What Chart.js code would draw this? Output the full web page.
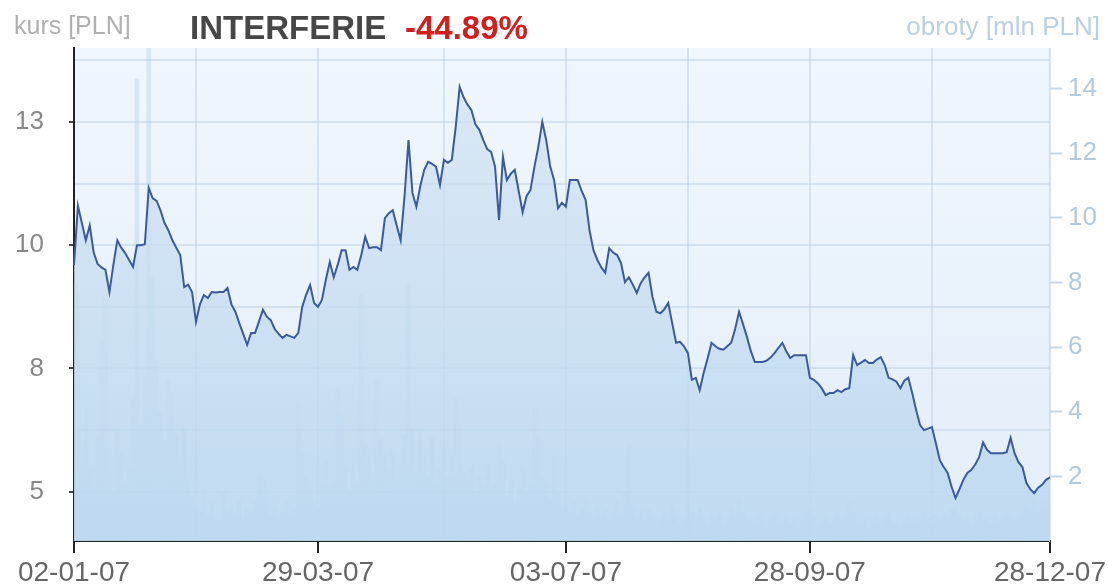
<!DOCTYPE html>
<html>
<head>
<meta charset="utf-8">
<script src="https://cdn.jsdelivr.net/npm/chart.js@4.4.1/dist/chart.umd.min.js"></script>
<style>
  body { margin: 0; background: #fff; }
  #wrap { position: relative; width: 1109px; height: 586px; }
  .hdr { position: absolute; font-family: "Liberation Sans", Arial, sans-serif; white-space: nowrap; line-height: 1; }
</style>
</head>
<body>
<div id="wrap">
  <canvas id="chart" width="1109" height="586"></canvas>
  <div class="hdr" style="left:14px;top:13px;font-size:25px;color:#b0b0b0">kurs [PLN]</div>
  <div class="hdr" style="left:190px;top:11px;font-size:33px;font-weight:bold;color:#474747">INTERFERIE</div>
  <div class="hdr" style="left:405px;top:11px;font-size:33px;font-weight:bold;color:#d41e1e">-44.89%</div>
  <div class="hdr" style="right:9px;top:13px;font-size:26px;color:#bccfe0">obroty [mln PLN]</div>
</div>
<script>
// closing price per trading day, 2007
const prices = [
  9.60, 10.80, 10.45, 10.10, 10.40, 9.85, 9.62, 9.55, 9.50, 9.05,
  9.60, 10.10, 9.95, 9.84, 9.70, 9.56, 10.00, 10.00, 10.02, 11.16,
  10.95, 10.90, 10.70, 10.45, 10.30, 10.10, 9.95, 9.80, 9.15, 9.20,
  9.05, 8.44, 8.80, 8.99, 8.93, 9.05, 9.04, 9.05, 9.05, 9.13,
  8.80, 8.65, 8.42, 8.20, 7.98, 8.22, 8.22, 8.45, 8.69, 8.55,
  8.48, 8.30, 8.20, 8.12, 8.18, 8.15, 8.12, 8.22, 8.75, 9.00,
  9.19, 8.83, 8.75, 8.89, 9.30, 9.66, 9.35, 9.60, 9.90, 9.90,
  9.50, 9.56, 9.50, 9.80, 10.17, 9.94, 9.96, 9.96, 9.90, 10.55,
  10.65, 10.71, 10.40, 10.10, 11.00, 12.13, 11.06, 10.78, 11.20, 11.53,
  11.69, 11.65, 11.59, 11.22, 11.73, 11.67, 11.73, 12.40, 13.21, 13.00,
  12.85, 12.74, 12.45, 12.34, 12.13, 11.95, 11.89, 11.59, 10.51, 11.79,
  11.32, 11.45, 11.53, 11.10, 10.67, 11.00, 11.12, 11.59, 12.00, 12.50,
  12.13, 11.60, 11.32, 10.75, 10.86, 10.78, 11.32, 11.32, 11.32, 11.10,
  10.92, 10.30, 9.90, 9.70, 9.55, 9.44, 9.94, 9.85, 9.80, 9.64,
  9.25, 9.35, 9.20, 9.03, 9.23, 9.35, 9.44, 8.95, 8.65, 8.62,
  8.70, 8.83, 8.42, 8.02, 8.04, 7.95, 7.81, 7.27, 7.31, 7.06,
  7.41, 7.70, 8.02, 7.95, 7.90, 7.88, 7.95, 8.02, 8.30, 8.65,
  8.40, 8.14, 7.85, 7.63, 7.63, 7.63, 7.66, 7.72, 7.81, 7.92,
  8.02, 7.85, 7.71, 7.77, 7.77, 7.77, 7.77, 7.31, 7.27, 7.20,
  7.10, 6.96, 7.00, 7.00, 7.06, 7.02, 7.08, 7.10, 7.77, 7.57,
  7.62, 7.67, 7.61, 7.61, 7.68, 7.73, 7.57, 7.31, 7.28, 7.23,
  7.10, 7.25, 7.31, 7.00, 6.65, 6.35, 6.25, 6.28, 6.31, 5.99,
  5.64, 5.50, 5.38, 5.10, 4.87, 5.05, 5.24, 5.38, 5.44, 5.55,
  5.70, 6.00, 5.85, 5.78, 5.78, 5.78, 5.78, 5.80, 6.09, 5.78,
  5.60, 5.50, 5.18, 5.05, 4.97, 5.08, 5.14, 5.24, 5.29
];

// turnover, mln PLN
const volumes = [
  8.0, 7.6, 2.4, 4.1, 2.2, 1.6, 3.2, 6.2, 7.5, 2.1,
  1.5, 3.4, 2.7, 1.8, 2.3, 4.4, 14.3, 3.6, 5.1, 16.8,
  8.2, 5.6, 4.0, 3.1, 5.0, 4.6, 3.3, 2.4, 3.5, 1.9,
  1.4, 1.1, 0.9, 1.6, 0.8, 1.2, 0.7, 0.6, 1.5, 0.9,
  1.1, 0.8, 1.3, 0.7, 1.0, 0.9, 1.2, 2.0, 1.9, 1.6,
  0.8, 1.1, 0.7, 0.9, 1.3, 0.8, 1.0, 4.3, 2.8, 2.0,
  1.6, 1.2, 1.0, 1.8, 2.5, 1.7, 1.9, 4.7, 3.9, 2.2,
  1.5, 2.1, 1.8, 7.6, 3.0, 2.4, 1.9, 5.0, 3.2, 2.6,
  2.2, 2.8, 1.9, 2.4, 3.3, 8.0, 3.5, 2.1, 3.4, 2.6,
  2.0, 3.2, 1.8, 2.3, 2.9, 2.0, 2.6, 4.4, 3.6, 2.1,
  1.9, 2.3, 1.5, 2.0, 1.7, 2.4, 1.6, 1.8, 3.0, 2.5,
  1.4, 1.9, 1.2, 1.6, 2.2, 1.5, 1.8, 4.1, 3.2, 2.0,
  1.7, 1.3, 2.6, 1.5, 1.1, 1.4, 0.9, 1.2, 0.8, 1.0,
  1.3, 0.9, 0.7, 1.1, 0.8, 1.0, 0.6, 0.9, 1.2, 0.8,
  1.5, 3.0, 1.1, 0.7, 0.9, 0.6, 1.0, 0.8, 0.5, 0.7,
  0.9, 0.6, 1.1, 0.8, 0.5, 0.7, 1.2, 0.9, 0.6, 1.0,
  0.7, 0.5, 0.8, 0.6, 0.9, 0.5, 0.7, 1.1, 0.8, 1.3,
  0.9, 0.6, 0.7, 0.5, 0.8, 0.6, 0.4, 0.7, 0.9, 0.5,
  0.6, 0.8, 0.5, 0.7, 0.4, 0.6, 0.9, 1.0, 0.7, 0.5,
  0.6, 0.8, 0.5, 0.7, 0.9, 0.6, 0.8, 1.2, 0.9, 0.6,
  0.5, 0.7, 0.4, 0.6, 0.8, 0.5, 0.7, 0.9, 0.6, 0.5,
  0.4, 0.6, 0.8, 0.5, 0.7, 0.6, 0.9, 0.7, 0.5, 0.8,
  0.6, 0.9, 0.7, 1.0, 1.1, 0.8, 0.6, 0.7, 0.5, 0.8,
  0.9, 0.6, 0.7, 0.5, 0.8, 0.6, 0.7, 0.9, 0.8, 0.6,
  0.7, 0.9, 1.1, 1.0, 1.3, 0.9, 1.2, 1.1, 0.8
];

const days = prices.map((_, i) => i);

// x axis: date labels at these trading-day indexes, extra grid lines halfway
const xTickIdx = [0, 62, 125, 187, 248];
const xTickLabels = ['02-01-07', '29-03-07', '03-07-07', '28-09-07', '28-12-07'];
const xGridIdx = [0, 31, 62, 94, 125, 156, 187, 218, 248];

// price axis (labels shown rounded, as on the original)
const priceGrid = [5, 6.25, 7.5, 8.75, 10, 11.25, 12.5, 13.75];
const priceLabelled = [5, 7.5, 10, 12.5];
const volTicks = [2, 4, 6, 8, 10, 12, 14];

const FONT = '"Liberation Sans", Arial, sans-serif';

const bgPlugin = {
  id: 'plotBg',
  beforeDraw(chart) {
    const { ctx, chartArea: a } = chart;
    const g = ctx.createLinearGradient(0, a.top, 0, a.bottom);
    g.addColorStop(0, '#f0f6fd');
    g.addColorStop(1, '#e3eef9');
    ctx.save();
    ctx.fillStyle = g;
    ctx.fillRect(a.left, a.top, a.right - a.left, a.bottom - a.top);
    ctx.restore();
  }
};

function areaFill(context) {
  const a = context.chart.chartArea;
  if (!a) return 'rgba(200,222,240,0.7)';
  const g = context.chart.ctx.createLinearGradient(0, a.top, 0, a.bottom);
  g.addColorStop(0, 'rgba(208,226,242,0.65)');
  g.addColorStop(1, 'rgba(188,216,240,0.9)');
  return g;
}

new Chart(document.getElementById('chart'), {
  data: {
    labels: days,
    datasets: [
      {
        type: 'line',
        data: prices,
        yAxisID: 'y',
        borderColor: '#3b5a9a',
        borderWidth: 2,
        pointRadius: 0,
        tension: 0,
        fill: 'start',
        backgroundColor: areaFill,
        order: 0
      },
      {
        type: 'bar',
        data: volumes,
        yAxisID: 'y2',
        backgroundColor: 'rgba(168,198,224,0.32)',
        barPercentage: 1,
        categoryPercentage: 1,
        order: 1
      }
    ]
  },
  options: {
    responsive: false,
    animation: false,
    layout: { padding: { top: 48, left: 0, right: 0, bottom: 0 } },
    plugins: { legend: { display: false }, tooltip: { enabled: false } },
    scales: {
      x: {
        type: 'category',
        offset: false,
        afterBuildTicks: s => { s.ticks = xGridIdx.map(v => ({ value: v })); },
        afterFit: s => { s.height = 45; },
        border: { color: '#222', width: 2 },
        grid: {
          offset: false,
          color: 'rgba(190,208,226,0.5)',
          lineWidth: 2,
          tickLength: 12,
          tickWidth: 2,
          tickColor: c => xTickIdx.includes(c.tick && c.tick.value) ? '#222' : 'rgba(0,0,0,0)'
        },
        ticks: {
          autoSkip: false,
          maxRotation: 0,
          padding: 3,
          color: '#666',
          font: { family: FONT, size: 28 },
          callback: v => {
            const k = xTickIdx.indexOf(v);
            return k >= 0 ? xTickLabels[k] : '';
          }
        }
      },
      y: {
        position: 'left',
        min: 4,
        max: 14,
        afterBuildTicks: s => { s.ticks = priceGrid.map(v => ({ value: v })); },
        afterFit: s => { s.width = 74; },
        border: { color: '#222', width: 2 },
        grid: {
          color: 'rgba(190,208,226,0.5)',
          lineWidth: 2,
          tickLength: 5,
          tickWidth: 2,
          tickColor: c => priceLabelled.includes(c.tick && c.tick.value) ? '#444' : 'rgba(0,0,0,0)'
        },
        ticks: {
          padding: 25,
          color: '#888',
          font: { family: FONT, size: 26 },
          callback: v => priceLabelled.includes(v) ? String(Math.round(v)) : ''
        }
      },
      y2: {
        position: 'right',
        min: 0,
        max: 15.25,
        afterBuildTicks: s => { s.ticks = volTicks.map(v => ({ value: v })); },
        afterFit: s => { s.width = 57; },
        border: { color: '#d0dde9', width: 1 },
        grid: {
          drawOnChartArea: false,
          tickLength: 12,
          tickWidth: 2,
          tickColor: '#c6d6e4'
        },
        ticks: {
          padding: 6,
          color: '#b6c9da',
          font: { family: FONT, size: 26 }
        }
      }
    }
  },
  plugins: [bgPlugin]
});
</script>
</body>
</html>
